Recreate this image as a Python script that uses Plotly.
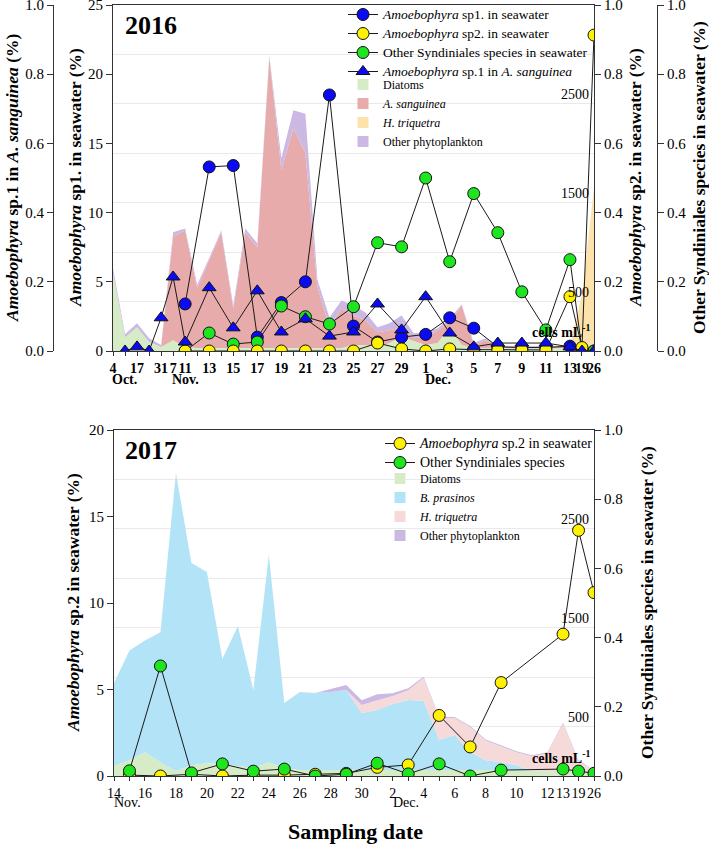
import plotly.graph_objects as go

W, H = 709, 844
SERIF = "Liberation Serif"


def px(x):
    return x / W


def py(y):
    return 1 - y / H


# ---------------- 2016 data ----------------
# daily positions: Nov 11 = 0 (Oct. 4 = -6 ... Dec 26 = 34)
day16 = [-6, -5, -4, -3, -2, -1, 0, 1, 2, 3, 4, 5, 6, 7, 8, 9, 10, 11, 12, 13, 14,
         15, 16, 17, 18, 19, 20, 21, 22, 23, 24, 25, 26, 27, 28, 29, 30, 31, 32, 33, 34]
diatoms16 = [790, 140, 240, 90, 40, 110, 40, 30, 30, 30, 30, 30, 30, 30, 30, 30, 30, 30, 30, 30, 60,
             60, 40, 80, 150, 100, 60, 80, 240, 60, 30, 30, 30, 30, 30, 30, 30, 30, 30, 20, 20]
sanguinea16 = [0, 0, 0, 0, 0, 1050, 1180, 610, 890, 1170, 400, 1170, 1020, 2940, 1800, 2225, 1970, 620, 210, 400, 300,
               250, 150, 130, 90, 30, 80, 130, 50, 400, 30, 80, 10, 10, 10, 10, 10, 10, 10, 0, 0]
htriquetra16 = [0, 0, 0, 0, 0, 0, 0, 0, 0, 0, 0, 0, 0, 0, 0, 0, 0, 0, 0, 0, 0,
                0, 0, 0, 0, 0, 0, 0, 0, 0, 0, 0, 0, 0, 0, 0, 0, 0, 0, 550, 1630]
other16 = [50, 30, 40, 40, 20, 40, 20, 30, 20, 20, 30, 40, 40, 20, 120, 180, 400, 70, 100, 80, 100,
           80, 50, 70, 120, 50, 50, 20, 40, 10, 20, 20, 10, 10, 10, 10, 10, 10, 10, 0, 0]

samp16 = [0, 2, 4, 6, 8, 10, 12, 14, 16, 18, 20, 22, 24, 26, 28, 30, 32, 33, 34]
sp1_sea16 = [3.4, 13.3, 13.4, 1.0, 3.5, 5.0, 18.5, 1.8, 0.65, 1.0, 1.2, 2.4, 1.65, 0.3, 0.25, 0.25, 0.35, 0.0, 0.0]
sp2_sea16 = [0, 0, 0, 0, 0, 0, 0, 0, 0.023, 0.006, 0.0, 0.006, 0.004, 0.003, 0.003, 0.003, 0.157, 0.01, 0.913]
syn_sea16 = [0.0, 0.052, 0.02, 0.026, 0.13, 0.099, 0.078, 0.128, 0.313, 0.301, 0.50, 0.258, 0.455, 0.342,
             0.171, 0.061, 0.264, 0.003, 0.0]
tri_pos16 = [-5, -4, -3, -2, -1, 0, 2, 4, 6, 8, 10, 12, 14, 16, 18, 20, 22, 24, 26, 28, 30, 32, 33, 34]
sp1_sang16 = [0.0, 0.012, 0.0, 0.096, 0.214, 0.026, 0.183, 0.067, 0.174, 0.055, 0.093, 0.043, 0.055, 0.136,
              0.061, 0.157, 0.052, 0.012, 0.023, 0.023, 0.023, 0.012, 0.0, 0.0]

ticks16 = {-6: "4", -4: "17", -2: "31", -1: "7", 0: "11", 2: "13", 4: "15", 6: "17", 8: "19", 10: "21",
           12: "23", 14: "25", 16: "27", 18: "29", 20: "1", 22: "3", 24: "5", 26: "7", 28: "9", 30: "11",
           32: "13", 33: "19", 34: "26"}
months16 = [(-6, "Oct."), (-1, "Nov."), (20, "Dec.")]

# ---------------- 2017 data ----------------
# daily positions: Nov 14 = 0 ... Dec 12 = 28, Dec 13 = 29, Dec 19 = 30, Dec 26 = 31
day17 = [0, 1, 2, 3, 4, 5, 6, 7, 8, 9, 10, 11, 12, 13, 14, 15, 16, 17, 18, 19, 20, 21, 22, 23, 24, 25,
         26, 27, 28, 29, 30, 31]
diatoms17 = [100, 160, 240, 140, 50, 110, 130, 120, 100, 80, 140, 80, 60, 60, 60, 60, 60, 60, 60, 60, 60,
             60, 60, 60, 60, 60, 60, 50, 50, 50, 50, 30]
prasinos17 = [840, 1110, 1130, 1315, 3016, 2045, 1933, 1063, 1417, 790, 2095, 658, 790, 780, 790, 810, 577,
              607, 668, 708, 700, 304, 354, 182, 100, 80, 50, 0, 0, 0, 0, 0]
htriquetra17 = [0, 0, 0, 0, 0, 0, 0, 0, 0, 0, 0, 0, 0, 0, 0, 0, 80, 100, 80, 100, 233, 223, 172, 253, 200,
                160, 130, 150, 180, 480, 100, 30]
other17 = [0, 0, 0, 0, 0, 0, 0, 0, 0, 0, 0, 0, 0, 0, 30, 50, 50, 60, 30, 20, 10, 10, 10, 10, 10, 10, 10, 10,
           10, 10, 10, 0]

samp17 = [1, 3, 5, 7, 9, 11, 13, 15, 17, 19, 21, 23, 25, 29, 30, 31]
sp2_sea17 = [0.05, 0.0, 0.1, 0.0, 0.05, 0.05, 0.1, 0.15, 0.5, 0.64, 3.5, 1.68, 5.4, 8.2, 14.2, 10.6]
syn_sea17 = [0.015, 0.318, 0.009, 0.035, 0.014, 0.02, 0.0, 0.005, 0.037, 0.006, 0.035, 0.0, 0.017, 0.02,
             0.014, 0.008]

ticks17 = {0: "14", 2: "16", 4: "18", 6: "20", 8: "22", 10: "24", 12: "26", 14: "28", 16: "30", 18: "2",
           20: "4", 22: "6", 24: "8", 26: "10", 28: "12", 29: "13", 30: "19", 31: "26"}
months17 = [(0, "Nov."), (18, "Dec.")]

cell_ticks = [500, 1000, 1500, 2000, 2500, 3000]
cell_labels = [500, 1500, 2500]

# ---------------- styles ----------------
C_DIA = "#d6ecc6"
C_SANG = "#e8abab"
C_HTRI16 = "#fde3ab"
C_OTHER = "#cbb9e4"
C_PRAS = "#b3e3f6"
C_HTRI17 = "#f6d9d9"
C_BLUE = "#0a0af5"
C_YEL = "#fff200"
C_GRN = "#1ee61e"
LINE = dict(color="#1a1a1a", width=1)


def big(t, size=13.5):
    return '<span style="font-size:%spx">%s</span>' % (size, t)


fig = go.Figure()

# ---- 2016 stacked areas (cells axis y) ----
for name, vals, col in [("Diatoms", diatoms16, C_DIA), ("A. sanguinea", sanguinea16, C_SANG),
                        ("H. triquetra", htriquetra16, C_HTRI16), ("Other phytoplankton", other16, C_OTHER)]:
    fig.add_trace(go.Scatter(x=day16, y=vals, stackgroup="s16", mode="none", fillcolor=col,
                             line=dict(width=0), showlegend=False, xaxis="x", yaxis="y", name=name))

# ---- 2016 lines ----
fig.add_trace(go.Scatter(x=samp16, y=sp1_sea16, mode="lines+markers", xaxis="x", yaxis="y2",
                         name=big("<i>Amoebophyra</i> sp1. in seawater"), line=LINE,
                         marker=dict(symbol="circle", size=12, color=C_BLUE, line=dict(color="#111", width=1)),
                         legend="legend", legendrank=1))
fig.add_trace(go.Scatter(x=samp16, y=syn_sea16, mode="lines+markers", xaxis="x", yaxis="y3",
                         name=big("Other Syndiniales species in seawater"), line=LINE,
                         marker=dict(symbol="circle", size=12, color=C_GRN, line=dict(color="#111", width=1)),
                         legend="legend", legendrank=3))
fig.add_trace(go.Scatter(x=samp16, y=sp2_sea16, mode="lines+markers", xaxis="x", yaxis="y4",
                         name=big("<i>Amoebophyra</i> sp2. in seawater"), line=LINE,
                         marker=dict(symbol="circle", size=12, color=C_YEL, line=dict(color="#111", width=1)),
                         legend="legend", legendrank=2))
fig.add_trace(go.Scatter(x=tri_pos16, y=sp1_sang16, mode="lines+markers", xaxis="x", yaxis="y5",
                         name=big("<i>Amoebophyra</i> sp.1 in <i>A. sanguinea</i>"), line=LINE,
                         marker=dict(symbol="triangle-up", size=12, color=C_BLUE, line=dict(color="#111", width=1)),
                         legend="legend", legendrank=4))

# legend proxies for 2016 areas
for i, (name, col) in enumerate([("Diatoms", C_DIA), ("<i>A. sanguinea</i>", C_SANG),
                                 ("<i>H. triquetra</i>", C_HTRI16), ("Other phytoplankton", C_OTHER)]):
    fig.add_trace(go.Scatter(x=[None], y=[None], mode="markers", name=name, xaxis="x", yaxis="y",
                             marker=dict(symbol="square", size=11, color=col), legend="legend2",
                             legendrank=1 + i))

# ---- 2017 stacked areas ----
for name, vals, col in [("Diatoms", diatoms17, C_DIA), ("B. prasinos", prasinos17, C_PRAS),
                        ("H. triquetra", htriquetra17, C_HTRI17), ("Other phytoplankton", other17, C_OTHER)]:
    fig.add_trace(go.Scatter(x=day17, y=vals, stackgroup="s17", mode="none", fillcolor=col,
                             line=dict(width=0), showlegend=False, xaxis="x2", yaxis="y6", name=name))

fig.add_trace(go.Scatter(x=samp17, y=sp2_sea17, mode="lines+markers", xaxis="x2", yaxis="y7",
                         name=big("<i>Amoebophyra</i> sp.2 in seawater", 14), line=LINE,
                         marker=dict(symbol="circle", size=12, color=C_YEL, line=dict(color="#111", width=1)),
                         legend="legend3", legendrank=1))
fig.add_trace(go.Scatter(x=samp17, y=syn_sea17, mode="lines+markers", xaxis="x2", yaxis="y8",
                         name=big("Other Syndiniales species", 14), line=LINE,
                         marker=dict(symbol="circle", size=12, color=C_GRN, line=dict(color="#111", width=1)),
                         legend="legend3", legendrank=2))
for i, (name, col) in enumerate([("Diatoms", C_DIA), ("<i>B. prasinos</i>", C_PRAS),
                                 ("<i>H. triquetra</i>", C_HTRI17), ("Other phytoplankton", C_OTHER)]):
    fig.add_trace(go.Scatter(x=[None], y=[None], mode="markers", name=name, xaxis="x2", yaxis="y6",
                             marker=dict(symbol="square", size=11, color=col), legend="legend4",
                             legendrank=1 + i))

# ---------------- axes ----------------
AX = "#333333"
tick_font = dict(family=SERIF, size=15, color="black")
frac_vals = [0, 0.2, 0.4, 0.6, 0.8, 1.0]
frac_text = ["0.0", "0.2", "0.4", "0.6", "0.8", "1.0"]

dom16 = [py(351), py(5)]
dom17 = [py(776), py(430)]
xdom16 = [px(113), px(594)]
xdom17 = [px(114), px(594)]

common_y = dict(showgrid=False, zeroline=False, showline=True, linecolor=AX, linewidth=1, automargin=False,
                ticks="outside", ticklen=6, tickcolor=AX, tickfont=tick_font, ticklabeloverflow="allow")
common_x = dict(tickmode="array", ticks="outside", ticklen=4, tickcolor=AX, showline=True, linecolor=AX,
                mirror=True, showgrid=False, zeroline=False, tickangle=0, automargin=False,
                ticklabeloverflow="allow")
cells_y = dict(range=[0, 3500], tickvals=cell_ticks, showticklabels=False, ticks="", showgrid=True,
               gridcolor="#e9e9e9", gridwidth=1, zeroline=False, showline=False, automargin=False)
leg = dict(xanchor="left", yanchor="top", bgcolor="rgba(0,0,0,0)", tracegroupgap=0, traceorder="normal",
           font=dict(family=SERIF, size=12, color="black"))

fig.update_layout(
    template="none",
    width=W, height=H, autosize=False,
    margin=dict(l=0, r=0, t=0, b=0, pad=0),
    paper_bgcolor="white", plot_bgcolor="white",
    font=dict(family=SERIF, color="black"),
    showlegend=True,
    xaxis=dict(common_x, domain=xdom16, range=[-6, 34], anchor="y",
               tickvals=day16, ticktext=["<b>%s</b>" % ticks16[d] if d in ticks16 else "" for d in day16],
               tickfont=dict(family=SERIF, size=14, color="black")),
    yaxis=dict(cells_y, domain=dom16, anchor="x"),
    yaxis2=dict(common_y, overlaying="y", anchor="x", side="left", range=[0, 25],
                tickvals=[0, 5, 10, 15, 20, 25]),
    yaxis3=dict(common_y, overlaying="y", anchor="free", position=px(657), side="right", range=[0, 1],
                tickvals=frac_vals, ticktext=frac_text),
    yaxis4=dict(common_y, overlaying="y", anchor="x", side="right", range=[0, 1],
                tickvals=frac_vals, ticktext=frac_text),
    yaxis5=dict(common_y, overlaying="y", anchor="free", position=px(53), side="left", range=[0, 1],
                tickvals=frac_vals, ticktext=frac_text),
    xaxis2=dict(common_x, domain=xdom17, range=[0, 31], anchor="y6",
                tickvals=day17, ticktext=[ticks17.get(d, "") for d in day17],
                tickfont=dict(family=SERIF, size=14, color="black")),
    yaxis6=dict(cells_y, domain=dom17, anchor="x2"),
    yaxis7=dict(common_y, overlaying="y6", anchor="x2", side="left", range=[0, 20],
                tickvals=[0, 5, 10, 15, 20]),
    yaxis8=dict(common_y, overlaying="y6", anchor="x2", side="right", range=[0, 1],
                tickvals=frac_vals, ticktext=frac_text),
    legend=dict(leg, x=px(343), y=py(0)),
    legend2=dict(leg, x=px(343), y=py(70)),
    legend3=dict(leg, x=px(380), y=py(429)),
    legend4=dict(leg, x=px(380), y=py(464)),
)

ann = []
# panel years
ann.append(dict(text="<b>2016</b>", x=px(123), y=py(25), xref="paper", yref="paper", xanchor="left",
                yanchor="middle", showarrow=False, font=dict(family=SERIF, size=26)))
ann.append(dict(text="<b>2017</b>", x=px(123), y=py(450), xref="paper", yref="paper", xanchor="left",
                yanchor="middle", showarrow=False, font=dict(family=SERIF, size=26)))
# month labels
for d, m in months16:
    ann.append(dict(text="<b>%s</b>" % m, x=d, xref="x", y=py(379), yref="paper", xanchor="left",
                    xshift=-3, yanchor="middle", showarrow=False, font=dict(family=SERIF, size=14)))
for d, m in months17:
    ann.append(dict(text=m, x=d, xref="x2", y=py(802), yref="paper", xanchor="left",
                    xshift=-2, yanchor="middle", showarrow=False, font=dict(family=SERIF, size=14)))
# cells labels
for v in cell_labels:
    ann.append(dict(text=str(v), x=px(591), xref="paper", y=v, yref="y", xanchor="right", yanchor="bottom",
                    showarrow=False, font=dict(family=SERIF, size=14)))
    ann.append(dict(text=str(v), x=px(591), xref="paper", y=v, yref="y6", xanchor="right", yanchor="bottom",
                    showarrow=False, font=dict(family=SERIF, size=14)))
ann.append(dict(text="<b>cells mL<sup>-1</sup></b>", x=px(592), y=py(331), xref="paper", yref="paper",
                xanchor="right", yanchor="middle", showarrow=False, font=dict(family=SERIF, size=14)))
ann.append(dict(text="<b>cells mL<sup>-1</sup></b>", x=px(592), y=py(757), xref="paper", yref="paper",
                xanchor="right", yanchor="middle", showarrow=False, font=dict(family=SERIF, size=14)))
# axis titles
TF = dict(family=SERIF, size=17.5)
titles = [
    ("<b><i>Amoebophyra</i> sp.1 in <i>A. sanguinea</i> (%)</b>", 12, 178),
    ("<b><i>Amoebophyra</i> sp1. in seawater (%)</b>", 75, 178),
    ("<b><i>Amoebophyra</i> sp2. in seawater (%)</b>", 635, 178),
    ("<b>Other Syndiniales species in seawater (%)</b>", 699, 178),
    ("<b><i>Amoebophyra</i> sp.2 in seawater (%)</b>", 73, 603),
    ("<b>Other Syndiniales species in seawater (%)</b>", 647, 603),
]
for t, xx, yy in titles:
    ann.append(dict(text=t, x=px(xx), y=py(yy), xref="paper", yref="paper", xanchor="center",
                    yanchor="middle", textangle=-90, showarrow=False, font=TF))
ann.append(dict(text="<b>Sampling date</b>", x=px(355), y=py(831), xref="paper", yref="paper",
                xanchor="center", yanchor="middle", showarrow=False, font=dict(family=SERIF, size=22)))
fig.update_layout(annotations=ann)

fig.write_html("out.html", config={"displayModeBar": False},
               post_script="document.body.style.margin='0';document.body.style.overflow='hidden';")
